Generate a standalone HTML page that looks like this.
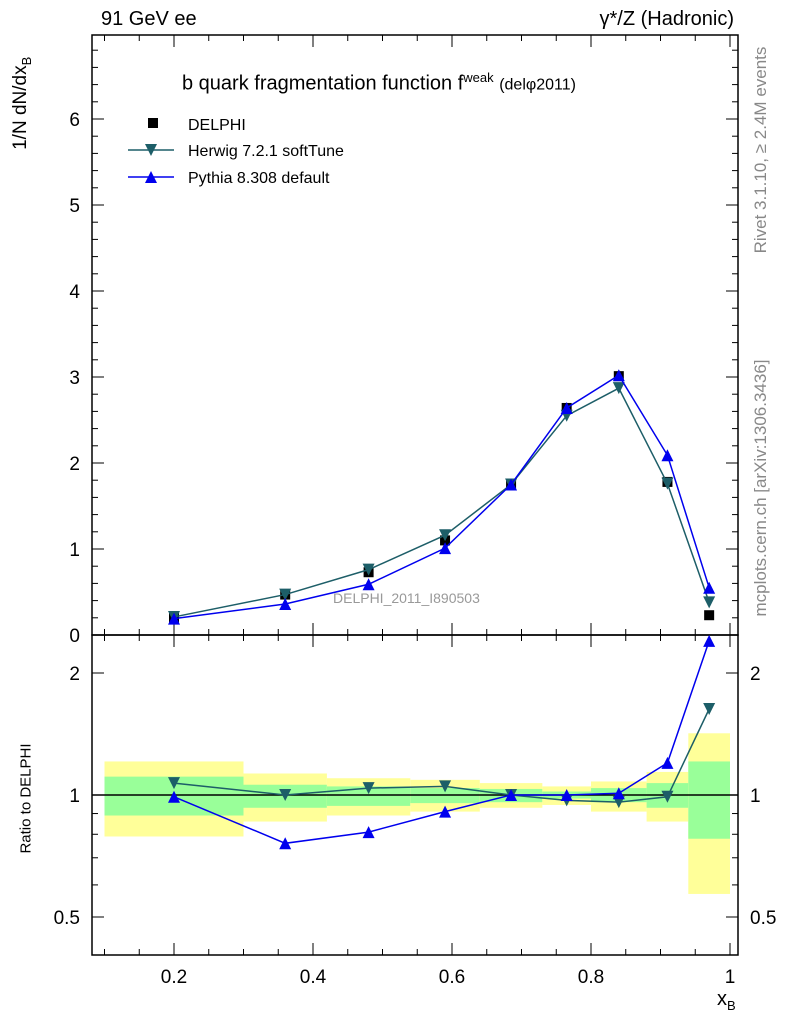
<!DOCTYPE html>
<html><head><meta charset="utf-8"><style>
body{margin:0;background:#fff;}
svg text{font-family:"Liberation Sans",sans-serif;}
</style></head><body>
<svg id="c" width="786" height="1024" xmlns="http://www.w3.org/2000/svg"></svg>
<script>
const xCenters=[0.2,0.36,0.48,0.59,0.685,0.765,0.84,0.91,0.97];
const delphi=[0.2,0.47,0.73,1.1,1.75,2.64,3.01,1.78,0.23];
const herwig=[0.21,0.47,0.76,1.16,1.75,2.55,2.87,1.76,0.38];
const pythia=[0.19,0.36,0.59,1.01,1.75,2.64,3.02,2.09,0.55];
const binEdges=[0.1,0.3,0.42,0.54,0.64,0.73,0.80,0.88,0.94,1.0];
const yellowHi=[1.21,1.13,1.10,1.09,1.07,1.05,1.08,1.14,1.42];
const yellowLo=[0.79,0.86,0.89,0.91,0.93,0.945,0.91,0.86,0.57];
const greenHi=[1.11,1.06,1.05,1.04,1.035,1.02,1.04,1.07,1.21];
const greenLo=[0.89,0.93,0.94,0.955,0.96,0.98,0.96,0.93,0.78];
const herwigRatio=[1.07,1.0,1.04,1.05,1.0,0.97,0.96,0.99,1.63];
const pythiaRatio=[0.99,0.76,0.81,0.91,1.0,1.0,1.01,1.2,2.4];
const xTicks=[0.2,0.4,0.6,0.8,1];
const yTicks=[0,1,2,3,4,5,6];
const rTicks=[0.5,1,2];

const NS="http://www.w3.org/2000/svg";
const svg=document.getElementById('c');
const L=92,R=738,T=35,M=635,B=955;
const X=v=>174+(v-0.2)*695;
const Y=v=>635-v*86;
const RY=v=>795-Math.log2(v)*122;
function el(t,a,p){const e=document.createElementNS(NS,t);for(const k in a)e.setAttribute(k,a[k]);(p||svg).appendChild(e);return e;}
function tx(s,a){const e=el('text',a);e.textContent=s;return e;}

for(let i=0;i<binEdges.length-1;i++){
 const x0=X(binEdges[i]),x1=X(binEdges[i+1]);
 const y=el('rect',{x:x0,y:RY(yellowHi[i]),width:x1-x0,height:RY(yellowLo[i])-RY(yellowHi[i]),fill:'#ffff99'});
 
 
 const g=el('rect',{x:x0,y:RY(greenHi[i]),width:x1-x0,height:RY(greenLo[i])-RY(greenHi[i]),fill:'#99ff99'});
 
 
}
el('line',{x1:L,x2:R,y1:RY(1),y2:RY(1),stroke:'#000','stroke-width':1.5});

el('rect',{x:L,y:T,width:R-L,height:M-T,fill:'none',stroke:'#000','stroke-width':1.5});
el('rect',{x:L,y:M,width:R-L,height:B-M,fill:'none',stroke:'#000','stroke-width':1.5});

for(let v=0.1;v<=1.0001;v+=0.05){
 const major=Math.abs(v*5-Math.round(v*5))<1e-6;const h=major?12:6;const x=X(v);
 [[T,1],[M,1],[M,-1],[B,-1]].forEach(([y0,d])=>el('line',{x1:x,x2:x,y1:y0,y2:y0+d*h,stroke:'#000'}));
}
xTicks.forEach(v=>{const t=tx(String(v),{x:X(v),y:983,'font-size':19,'text-anchor':'middle'});
 
 });
for(let v=0;v<=6.9;v+=0.2){const major=Math.abs(v-Math.round(v))<1e-6;const h=major?12:6;const y=Y(v);
 el('line',{x1:L,x2:L+h,y1:y,y2:y,stroke:'#000'});el('line',{x1:R,x2:R-h,y1:y,y2:y,stroke:'#000'});}
yTicks.forEach(v=>{const t=tx(String(v),{x:L-12,y:Y(v)+7,'font-size':19,'text-anchor':'end'});
 
 });
[0.5,0.6,0.7,0.8,0.9,1,2].forEach(v=>{const major=rTicks.includes(v);const h=major?12:6;const y=RY(v);
 el('line',{x1:L,x2:L+h,y1:y,y2:y,stroke:'#000'});el('line',{x1:R,x2:R-h,y1:y,y2:y,stroke:'#000'});});
rTicks.forEach(v=>{[[L-12,'end'],[R+12,'start']].forEach(([x,a])=>{const t=tx(String(v),{x:x,y:RY(v)+7,'font-size':19,'text-anchor':a});
 
 });});

function tri(x,y,c,down,name){const s=6;const p=down?`${x-s},${y-s} ${x+s},${y-s} ${x},${y+s}`:`${x-s},${y+s} ${x+s},${y+s} ${x},${y-s}`;
 const e=el('polygon',{points:p,fill:c});}
function series(vals,yf,c,down,name){
 const pl=el('polyline',{points:xCenters.map((x,i)=>X(x)+','+yf(vals[i])).join(' '),fill:'none',stroke:c,'stroke-width':1.5});
 
 
 xCenters.forEach((x,i)=>tri(X(x),yf(vals[i]),c,down,name+'-point'));
}
const HC='#1d5e68',PC='#0000ee';
series(herwigRatio,RY,HC,true,'herwig-ratio');
series(pythiaRatio,RY,PC,false,'pythia-ratio');
xCenters.forEach((x,i)=>{const r=el('rect',{x:X(x)-5,y:Y(delphi[i])-5,width:10,height:10,fill:'#000'});
 
 });
series(herwig,Y,HC,true,'herwig');
series(pythia,Y,PC,false,'pythia');

el('rect',{x:148,y:118,width:10,height:10,fill:'#000'});
tx('DELPHI',{x:188,y:130,'font-size':16});
el('line',{x1:128,x2:174,y1:150,y2:150,stroke:HC,'stroke-width':1.5});tri(151,150,HC,true,'legend-herwig-marker');
tx('Herwig 7.2.1 softTune',{x:188,y:156,'font-size':16});
el('line',{x1:128,x2:174,y1:177,y2:177,stroke:PC,'stroke-width':1.5});tri(151,177,PC,false,'legend-pythia-marker');
tx('Pythia 8.308 default',{x:188,y:183,'font-size':16});
</script>
<div style="position:absolute;left:0;top:0;width:786px;height:1024px;pointer-events:none;font-family:'Liberation Sans',sans-serif;">
<div style="position:absolute;left:101px;top:8px;font-size:20px;">91 GeV ee</div>
<div style="position:absolute;right:52px;top:8px;font-size:20px;">γ*/Z (Hadronic)</div>
<div style="position:absolute;left:182px;top:70px;font-size:20px;white-space:nowrap;">b quark fragmentation function f<sup style="font-size:13px;">weak</sup> <span style="font-size:16px;">(delφ2011)</span></div>
<div style="position:absolute;left:333px;top:590px;font-size:14px;color:#999;">DELPHI_2011_I890503</div>
<div style="position:absolute;left:-38px;top:78px;font-size:19px;transform:rotate(-90deg);white-space:nowrap;width:120px;">1/N dN/dx<sub style="font-size:13px;">B</sub></div>
<div style="position:absolute;left:-34px;top:790px;font-size:15px;transform:rotate(-90deg);white-space:nowrap;width:120px;text-align:center;">Ratio to DELPHI</div>
<div style="position:absolute;left:717px;top:988px;font-size:20px;">x<sub style="font-size:13px;">B</sub></div>
<div style="position:absolute;left:631px;top:140px;font-size:17px;color:#888;transform:rotate(-90deg);white-space:nowrap;width:260px;text-align:center;">Rivet 3.1.10, ≥ 2.4M events</div>
<div style="position:absolute;left:591px;top:478px;font-size:17px;color:#888;transform:rotate(-90deg);white-space:nowrap;width:340px;text-align:center;">mcplots.cern.ch [arXiv:1306.3436]</div>
</div>
</body></html>
